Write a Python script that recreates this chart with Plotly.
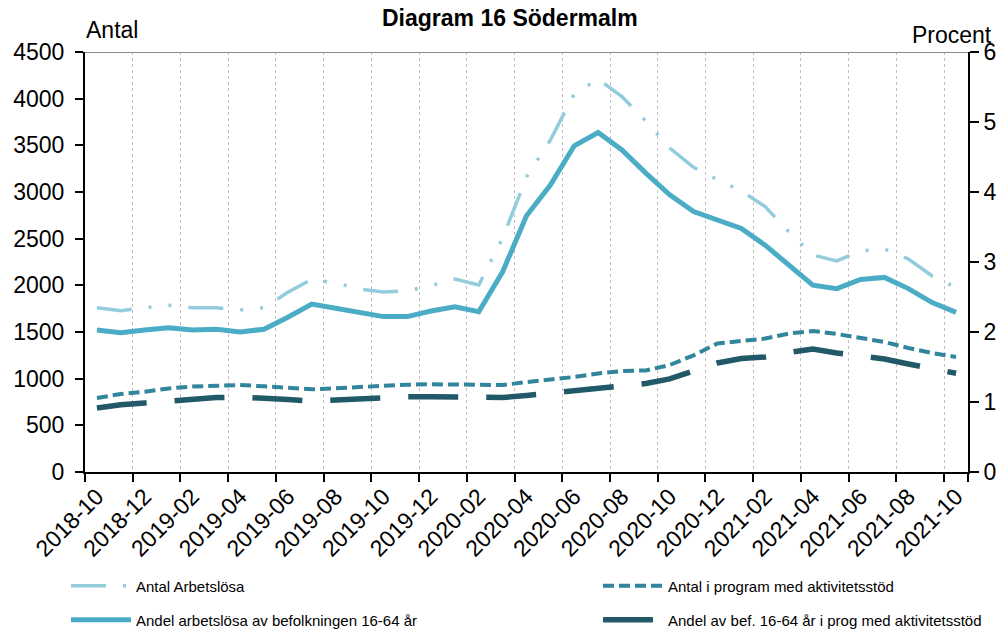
import plotly.graph_objects as go

months = ["2018-10", "2018-11", "2018-12", "2019-01", "2019-02", "2019-03", "2019-04", "2019-05",
          "2019-06", "2019-07", "2019-08", "2019-09", "2019-10", "2019-11", "2019-12", "2020-01",
          "2020-02", "2020-03", "2020-04", "2020-05", "2020-06", "2020-07", "2020-08", "2020-09",
          "2020-10", "2020-11", "2020-12", "2021-01", "2021-02", "2021-03", "2021-04", "2021-05",
          "2021-06", "2021-07", "2021-08", "2021-09", "2021-10"]

tick_labels = months[::2]

antal_arbetslosa = [1760, 1728, 1762, 1786, 1760, 1760, 1736, 1760, 1925, 2065, 2025, 1960, 1929,
                    1940, 1998, 2068, 2004, 2507, 3160, 3557, 4050, 4211, 4022, 3761, 3471, 3265,
                    3134, 3011, 2843, 2571, 2325, 2261, 2368, 2389, 2282, 2100, 1975]

andel_arbetslosa = [2.03, 1.99, 2.03, 2.06, 2.03, 2.04, 2.00, 2.04, 2.21, 2.40, 2.34, 2.28, 2.22,
                    2.22, 2.30, 2.36, 2.29, 2.86, 3.66, 4.10, 4.66, 4.85, 4.60, 4.27, 3.96, 3.72,
                    3.60, 3.48, 3.24, 2.96, 2.67, 2.62, 2.75, 2.78, 2.62, 2.42, 2.28]

antal_program = [793, 836, 860, 895, 916, 927, 932, 918, 903, 886, 898, 912, 930, 935, 940, 940,
                 935, 932, 964, 986, 1018, 1055, 1082, 1088, 1146, 1250, 1377, 1404, 1430, 1484,
                 1511, 1479, 1436, 1393, 1329, 1275, 1232]

andel_program = [0.914, 0.961, 0.986, 1.014, 1.043, 1.064, 1.07, 1.06, 1.036, 1.014, 1.03, 1.05,
                 1.07, 1.075, 1.075, 1.075, 1.064, 1.064, 1.093, 1.129, 1.157, 1.193, 1.236, 1.264,
                 1.33, 1.44, 1.557, 1.62, 1.643, 1.707, 1.757, 1.70, 1.653, 1.614, 1.543, 1.479, 1.41]

FONT = "Arial, Liberation Sans, sans-serif"

OFF = 8  # page body margin
W, H = 1006 - OFF, 631 - OFF
L, T = 85 - OFF, 52 - OFF
pw, ph = 883, 420
R, B = W - L - pw, H - T - ph


def px_x(xpage):
    return (xpage - OFF - L) / pw


def px_y(ypage):
    return (T + ph - (ypage - OFF)) / ph


fig = go.Figure()
fig.add_trace(go.Scatter(x=months, y=antal_arbetslosa, name="Antal Arbetslösa", mode="lines",
                         line=dict(color="#93CDDD", width=3.5, dash="35px,17px,3px,17px,3px,17px"),
                         yaxis="y", legend="legend"))
fig.add_trace(go.Scatter(x=months, y=andel_arbetslosa, name="Andel arbetslösa av befolkningen 16-64 år",
                         mode="lines", line=dict(color="#4BACC6", width=5),
                         yaxis="y2", legend="legend3"))
fig.add_trace(go.Scatter(x=months, y=antal_program, name="Antal i program med aktivitetsstöd", mode="lines",
                         line=dict(color="#31859C", width=4, dash="11px,5px"),
                         yaxis="y", legend="legend2"))
fig.add_trace(go.Scatter(x=months, y=andel_program, name="Andel av bef. 16-64 år i prog med aktivitetsstöd",
                         mode="lines", line=dict(color="#215968", width=5.5, dash="50px,28px"),
                         yaxis="y2", legend="legend4"))


def leg(xpage, ypage):
    return dict(orientation="v", itemwidth=60,
                font=dict(family=FONT, size=15, color="#000"), bgcolor="rgba(0,0,0,0)",
                xanchor="left", yanchor="middle", x=px_x(xpage), y=px_y(ypage))


fig.update_layout(
    width=W, height=H,
    margin=dict(l=L, r=R, t=T, b=B, autoexpand=False),
    paper_bgcolor="white", plot_bgcolor="white",
    font=dict(family=FONT, size=23, color="#000"),
    showlegend=True,
    legend=leg(66, 586),
    legend2=leg(598, 586),
    legend3=leg(66, 620),
    legend4=leg(598, 620),
    xaxis=dict(type="category", tickmode="array", tickvals=tick_labels, ticktext=tick_labels,
               tickson="boundaries", tickangle=-45, ticks="outside", ticklen=8, tickcolor="#000",
               tickwidth=1.5, showgrid=True, griddash="dot", gridcolor="#BFBFBF", gridwidth=1,
               showline=True, linecolor="#000", linewidth=2, range=[-0.5, 36.5],
               tickfont=dict(size=23), automargin=False),
    yaxis=dict(range=[0, 4500], dtick=500, tick0=0, showgrid=False, zeroline=False,
               showline=True, linecolor="#000", linewidth=2, ticks="outside", ticklen=8,
               tickcolor="#000", tickwidth=1.5, tickfont=dict(size=23), ticklabelstandoff=6,
               automargin=False),
    yaxis2=dict(range=[0, 6], dtick=1, tick0=0, overlaying="y", side="right", showgrid=False,
                zeroline=False, showline=True, linecolor="#000", linewidth=2, ticks="outside",
                ticklen=9, tickcolor="#000", tickwidth=1.5, tickfont=dict(size=23), automargin=False),
    shapes=[dict(type="line", xref="paper", yref="y", x0=0, x1=1, y0=4500, y1=4500,
                 line=dict(color="#8C8C8C", width=2))],
    annotations=[
        dict(text="<b>Diagram 16 Södermalm</b>", xref="paper", yref="paper", x=px_x(510), y=px_y(18),
             xanchor="center", yanchor="middle", showarrow=False, font=dict(size=23)),
        dict(text="Antal", xref="paper", yref="paper", x=px_x(85), y=px_y(30),
             xanchor="left", yanchor="middle", showarrow=False, borderpad=0),
        dict(text="Procent", xref="paper", yref="paper", x=px_x(993), y=px_y(35),
             xanchor="right", yanchor="middle", showarrow=False, borderpad=0),
    ],
)

fig.write_html("out.html")
